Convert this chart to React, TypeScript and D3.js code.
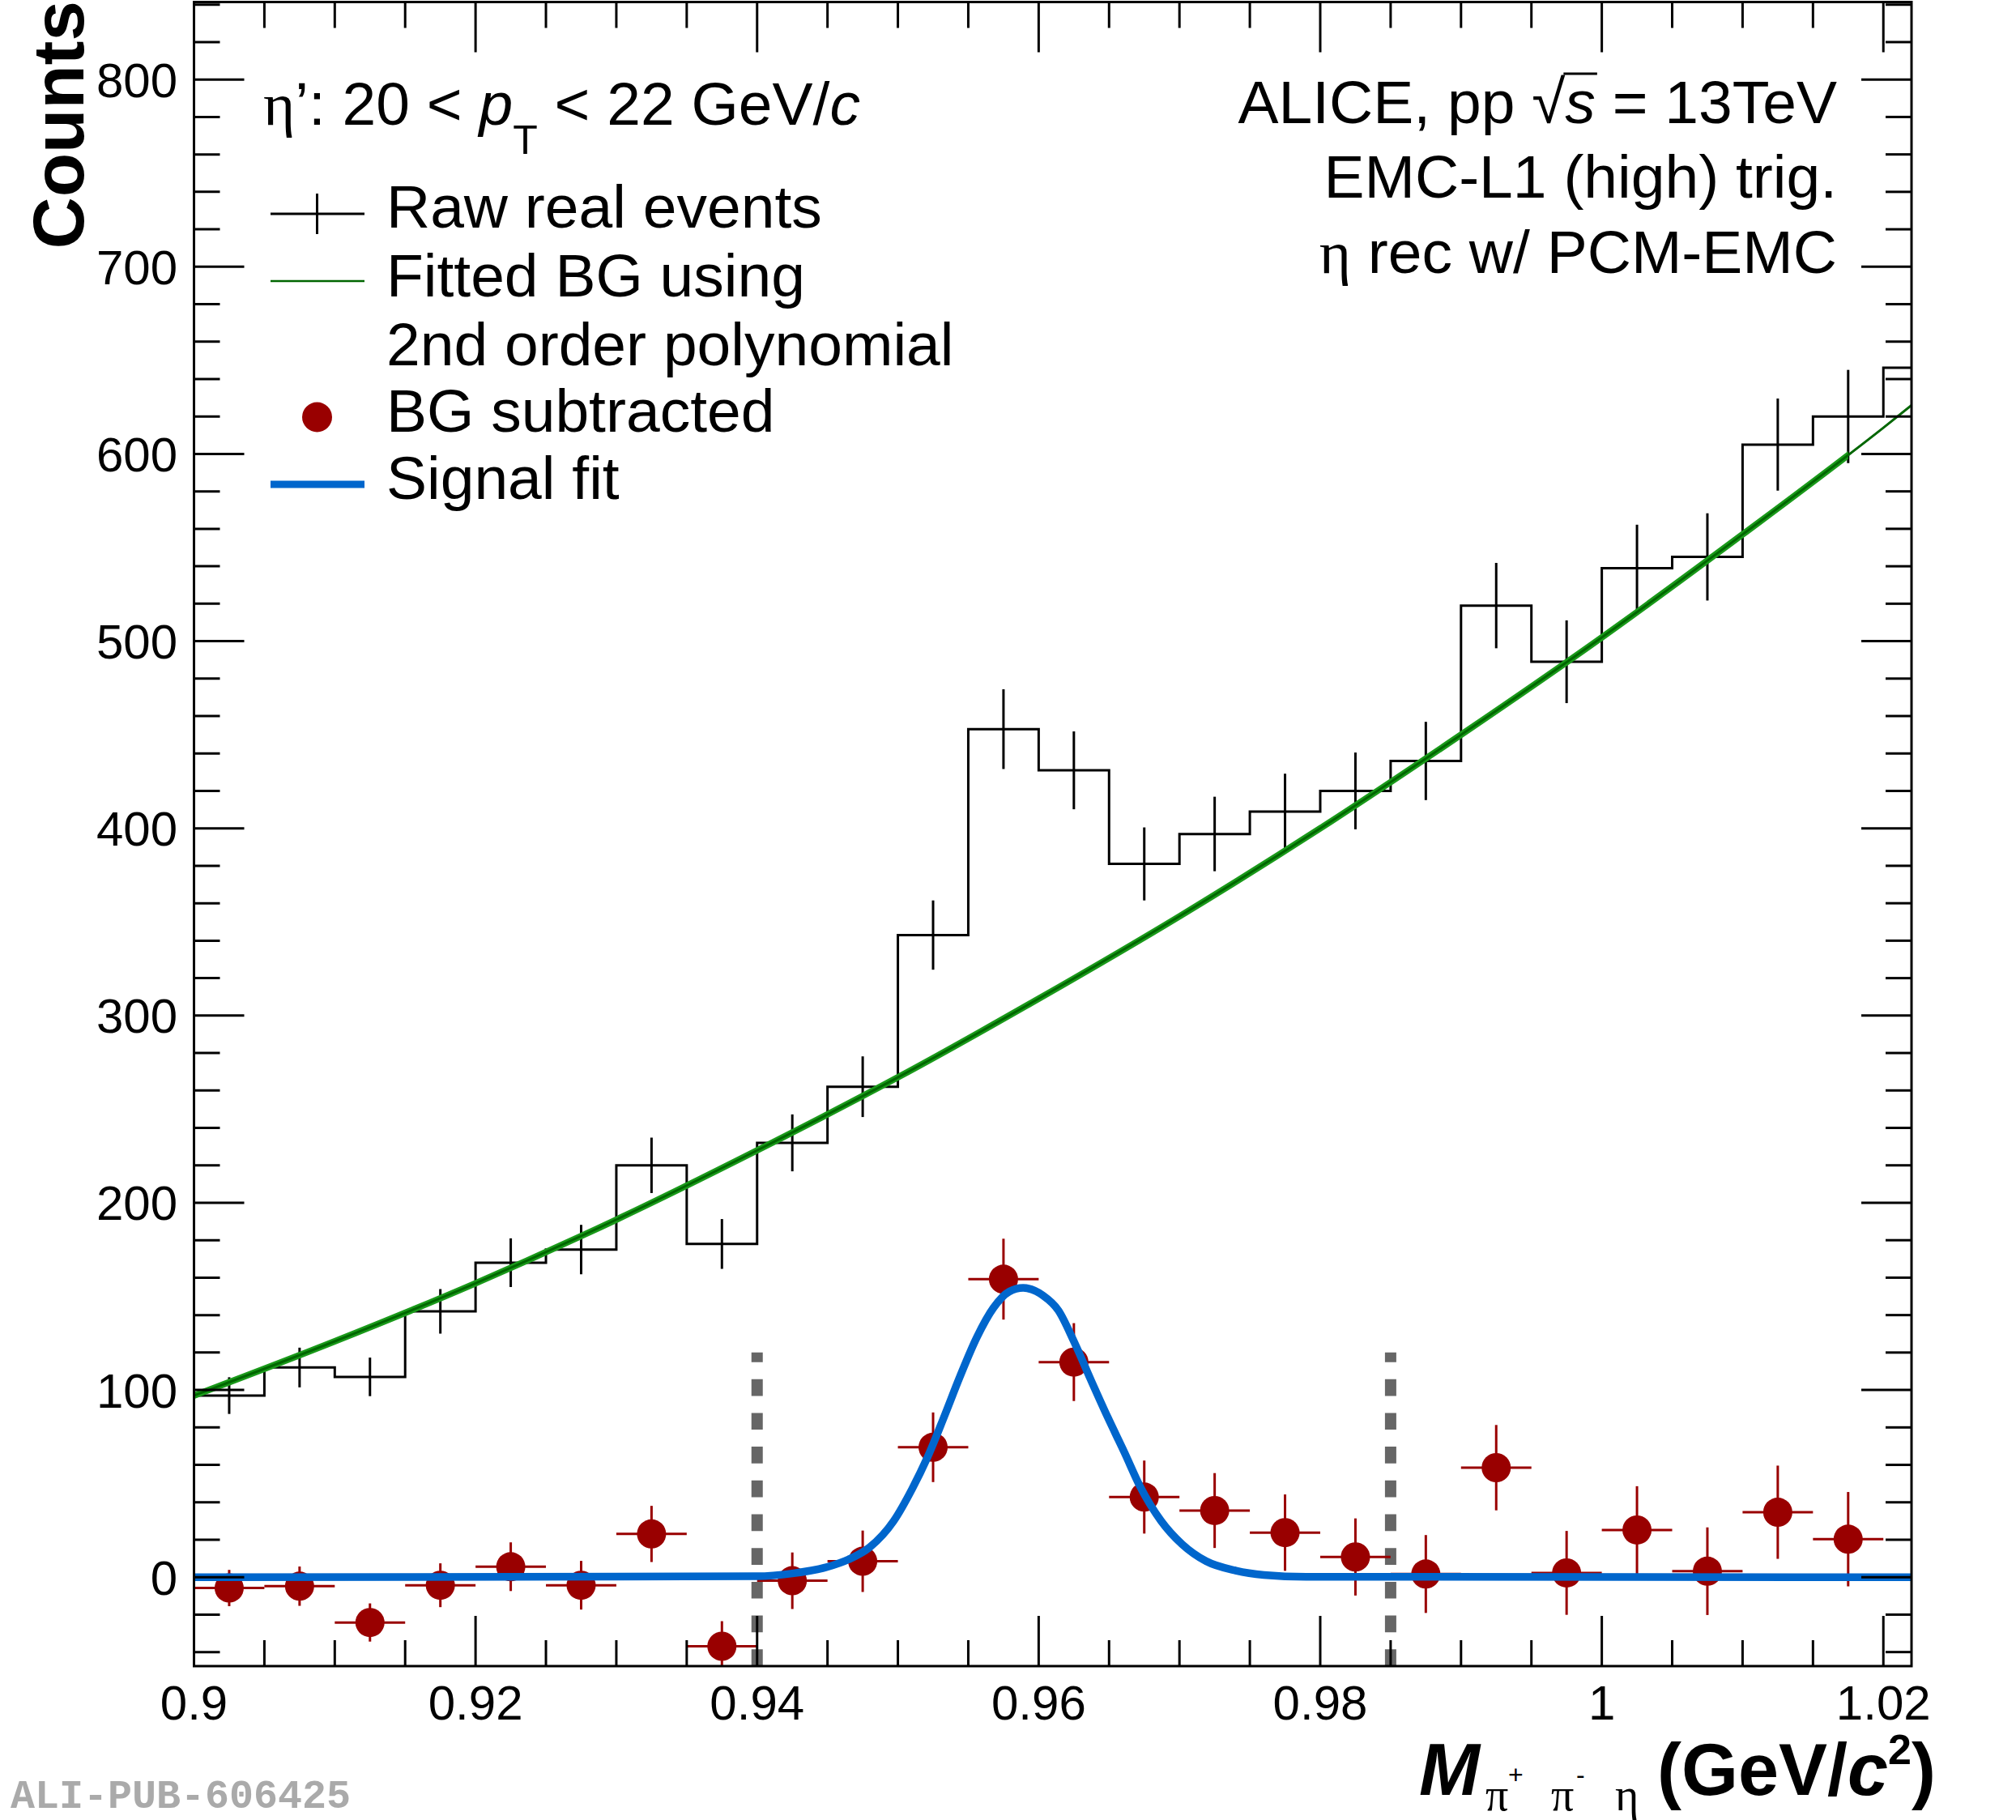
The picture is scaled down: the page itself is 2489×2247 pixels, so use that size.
import React, { useLayoutEffect, useRef, useState } from 'react';
import * as d3 from 'd3';

const W = 2489;
const H = 2247;
const SANS = '"Liberation Sans", Arial, Helvetica, sans-serif';
const SERIF = '"Liberation Serif", "Times New Roman", serif';
const MONO = '"Liberation Mono", "Courier New", monospace';

// ---------------- data ----------------
const binCenters = [0.9025, 0.9075, 0.9125, 0.9175, 0.9225, 0.9275, 0.9325, 0.9375, 0.9425, 0.9475,
  0.9525, 0.9575, 0.9625, 0.9675, 0.9725, 0.9775, 0.9825, 0.9875, 0.9925, 0.9975,
  1.0025, 1.0075, 1.0125, 1.0175, 1.0225];
const BIN_WIDTH = 0.005;
const rawCounts = [97, 112, 107, 142, 168, 175, 220, 178, 232, 262, 343, 453, 431, 381, 397, 409, 420, 436,
  519, 489, 539, 545, 605, 620, 646];
const rawErrors = [9.8, 10.6, 10.3, 11.9, 13.0, 13.2, 14.8, 13.3, 15.2, 16.2, 18.5, 21.3, 20.8, 19.5, 19.9,
  20.2, 20.5, 20.9, 22.8, 22.1, 23.2, 23.3, 24.6, 24.9, 25.4];
const bgSubValues = [-5.8, -4.8, -24.2, -4.3, 5.6, -4.3, 23.1, -36.9, -1.9, 8.5, 69.4, 159.2, 114.9, 42.8,
  35.6, 23.8, 10.8, 1.7, 58.5, 2.3, 25.2, 3.2, 34.7, 20.3];
const bgSubErrors = [9.7, 10.5, 10.2, 11.7, 13.0, 13.0, 15.0, 13.4, 15.1, 16.4, 18.6, 21.6, 20.8, 19.5,
  20.0, 20.4, 20.6, 20.8, 22.8, 22.4, 23.4, 23.4, 24.9, 25.2];
const bgFitX = [0.9, 0.91, 0.92, 0.93, 0.94, 0.95, 0.96, 0.97, 0.98, 0.99, 1.0, 1.01, 1.02, 1.022];
const bgFitY = [97, 126, 157, 191, 228, 267, 309, 353, 400, 450, 502, 557, 614, 626];
const fitRangeMax = 1.0175;
const signalX = [0.9, 0.94, 0.9425, 0.945, 0.9465, 0.948, 0.9497, 0.951, 0.9521, 0.9533, 0.9544, 0.9556,
  0.9568, 0.9579, 0.9589, 0.9603, 0.9614, 0.9625, 0.9637, 0.9649, 0.9661, 0.9672, 0.9687, 0.9702,
  0.9719, 0.974, 0.976, 0.979, 1.022];
const signalY = [0, 0.5, 2, 5.5, 9.5, 16, 30, 47, 64, 86, 107, 128, 144, 152.5, 154.5, 150.5, 142.5,
  126, 105.5, 85.5, 66.5, 48.5, 30, 17.5, 8.5, 3.5, 1.2, 0.2, 0];
const windowEdges = [0.94, 0.985];
const windowTop = 120;
const xTicks = [0.9, 0.92, 0.94, 0.96, 0.98, 1.0, 1.02];
const xTickLabels = ['0.9', '0.92', '0.94', '0.96', '0.98', '1', '1.02'];
const yTicks = [0, 100, 200, 300, 400, 500, 600, 700, 800];
const yTickLabels = ['0', '100', '200', '300', '400', '500', '600', '700', '800'];
const xMinorStep = 0.005;
const yMinorStep = 20;
const X_DOMAIN = [0.9, 1.022];
const Y_DOMAIN = [-47.5, 841.4];

const legendEntries = ['Raw real events', 'Fitted BG using', '2nd order polynomial', 'BG subtracted', 'Signal fit'];
const infoLines = ['EMC-L1 (high) trig.', 'η rec w/ PCM-EMC'];

// ---------------- colors ----------------
const RED = '#990000';
const BLUE = '#0066cc';
const GREEN_DARK = '#006600';
const GREEN_BAND = '#1a9a1a';
const GRAY = '#666666';

const L = 239.5, R = 2360, T = 2.5, B = 2057;

export default function App() {
  const x = d3.scaleLinear().domain(X_DOMAIN).range([L, R]);
  const y = d3.scaleLinear().domain(Y_DOMAIN).range([B, T]);

  const aliceRef = useRef<SVGTextElement>(null);
  const [bar, setBar] = useState<[number, number] | null>(null);
  useLayoutEffect(() => {
    const measure = () => {
      const t = aliceRef.current;
      if (!t) return;
      try {
        const a = t.getEndPositionOfChar(10);
        const b = t.getEndPositionOfChar(11);
        setBar([a.x, b.x]);
      } catch (e) { /* ignore */ }
    };
    measure();
    if ((document as any).fonts && (document as any).fonts.ready) {
      (document as any).fonts.ready.then(measure);
    }
  }, []);

  const xMinor = d3.range(X_DOMAIN[0], X_DOMAIN[1] + 1e-9, xMinorStep).filter(v => v <= X_DOMAIN[1] + 1e-9);
  const yMinor = d3.range(-40, Y_DOMAIN[1], yMinorStep);

  // raw histogram step path
  let histPath = '';
  binCenters.forEach((c, i) => {
    const x0 = x(Math.max(c - BIN_WIDTH / 2, X_DOMAIN[0]));
    const x1 = x(Math.min(c + BIN_WIDTH / 2, X_DOMAIN[1]));
    const yy = y(rawCounts[i]);
    histPath += i === 0 ? `M${x0},${yy}H${x1}` : `V${yy}H${x1}`;
  });

  const bgLine = d3.line<number>().x((d, i) => x(bgFitX[i])).y(d => y(d)).curve(d3.curveMonotoneX)(bgFitY) || '';
  const sigLine = d3.line<number>().x((d, i) => x(signalX[i])).y(d => y(d)).curve(d3.curveMonotoneX)(signalY) || '';

  const majLen = 62, minLen = 32;
  const tickW = 3;

  return (
    <svg width={W} height={H} style={{ position: 'absolute', left: 0, top: 0, background: '#fff' }}
      xmlns="http://www.w3.org/2000/svg">
      <defs>
        <clipPath id="plotClip"><rect x={L} y={T} width={R - L} height={B - T} /></clipPath>
        <clipPath id="bandClip"><rect x={L} y={T} width={x(fitRangeMax) - L} height={B - T} /></clipPath>
      </defs>
      <rect x={0} y={0} width={W} height={H} fill="#fff" />

      <g clipPath="url(#plotClip)">
        {/* raw histogram */}
        <path d={histPath} fill="none" stroke="#000" strokeWidth={3} />
        {binCenters.map((c, i) => c <= X_DOMAIN[1] ? (
          <line key={'re' + i} x1={x(c)} x2={x(c)} y1={y(rawCounts[i] - rawErrors[i])} y2={y(rawCounts[i] + rawErrors[i])}
            stroke="#000" strokeWidth={3} />
        ) : null)}

        {/* background fit */}
        <path d={bgLine} fill="none" stroke={GREEN_BAND} strokeWidth={8} clipPath="url(#bandClip)" />
        <path d={bgLine} fill="none" stroke={GREEN_DARK} strokeWidth={3} />

        {/* integration window */}
        {windowEdges.map((e, i) => (
          <line key={'w' + i} x1={x(e)} x2={x(e)} y1={y(Y_DOMAIN[0])} y2={y(windowTop)}
            stroke={GRAY} strokeWidth={14} strokeDasharray="20.7 21" />
        ))}

        {/* BG subtracted */}
        {bgSubValues.map((v, i) => {
          const c = binCenters[i];
          return (
            <g key={'bs' + i}>
              <line x1={x(c - BIN_WIDTH / 2)} x2={x(c + BIN_WIDTH / 2)} y1={y(v)} y2={y(v)} stroke={RED} strokeWidth={3} />
              <line x1={x(c)} x2={x(c)} y1={y(v - bgSubErrors[i])} y2={y(v + bgSubErrors[i])} stroke={RED} strokeWidth={3} />
              <circle cx={x(c)} cy={y(v)} r={18} fill={RED} />
            </g>
          );
        })}

        {/* signal fit */}
        <path d={sigLine} fill="none" stroke={BLUE} strokeWidth={9.5} />
      </g>

      {/* frame */}
      <rect x={L} y={T} width={R - L} height={B - T} fill="none" stroke="#000" strokeWidth={3} />

      {/* x ticks */}
      {xMinor.map((v, i) => {
        const isMaj = xTicks.some(t => Math.abs(t - v) < 1e-6);
        const len = isMaj ? majLen : minLen;
        return (
          <g key={'xt' + i}>
            <line x1={x(v)} x2={x(v)} y1={B} y2={B - len} stroke="#000" strokeWidth={tickW} />
            <line x1={x(v)} x2={x(v)} y1={T} y2={T + len} stroke="#000" strokeWidth={tickW} />
          </g>
        );
      })}
      {/* y ticks */}
      {yMinor.map((v, i) => {
        const isMaj = yTicks.includes(v);
        const len = isMaj ? majLen : minLen;
        return (
          <g key={'yt' + i}>
            <line x1={L} x2={L + len} y1={y(v)} y2={y(v)} stroke="#000" strokeWidth={tickW} />
            <line x1={R} x2={R - len} y1={y(v)} y2={y(v)} stroke="#000" strokeWidth={tickW} />
          </g>
        );
      })}

      {/* tick labels */}
      {xTicks.map((v, i) => (
        <text key={'xl' + i} x={x(v)} y={2123} textAnchor="middle" fontFamily={SANS} fontSize={60}>{xTickLabels[i]}</text>
      ))}
      {yTicks.map((v, i) => (
        <text key={'yl' + i} x={219} y={y(v) + 21.5} textAnchor="end" fontFamily={SANS} fontSize={60}>{yTickLabels[i]}</text>
      ))}

      {/* axis titles */}
      <text transform="translate(103,0) rotate(-90)" x={-1} y={0} textAnchor="end" fontFamily={SANS}
        fontWeight="bold" fontSize={89}>Counts</text>

      <text x={1752} y={2216} fontFamily={SANS} fontWeight="bold" fontStyle="italic" fontSize={90}>M</text>
      <text x={1834} y={2235} fontFamily={SERIF} fontSize={56}>π</text>
      <text x={1862} y={2202} fontFamily={SANS} fontSize={32}>+</text>
      <text x={1915} y={2235} fontFamily={SERIF} fontSize={56}>π</text>
      <text x={1946} y={2202} fontFamily={SANS} fontSize={32}>-</text>
      <text x={1994} y={2235} fontFamily={SERIF} fontSize={56}>η</text>
      <text x={2390} y={2216} textAnchor="end" fontFamily={SANS} fontWeight="bold" fontSize={90}>
        <tspan>(GeV/</tspan>
        <tspan fontStyle="italic">c</tspan>
        <tspan fontSize={52} dy={-38}>2</tspan>
        <tspan dy={38}>)</tspan>
      </text>

      {/* legend header */}
      <text x={325} y={154} fontFamily={SANS} fontSize={75}>
        <tspan fontFamily={SERIF}>η</tspan>
        <tspan>’: 20 &lt; </tspan>
        <tspan fontStyle="italic">p</tspan>
        <tspan fontSize={50} dy={36}>T</tspan>
        <tspan dy={-36}> &lt; 22 GeV/</tspan>
        <tspan fontStyle="italic">c</tspan>
      </text>

      {/* legend symbols */}
      <line x1={334} x2={450} y1={264} y2={264} stroke="#000" strokeWidth={3} />
      <line x1={391.5} x2={391.5} y1={239} y2={289} stroke="#000" strokeWidth={3} />
      <line x1={334} x2={450} y1={347} y2={347} stroke={GREEN_DARK} strokeWidth={2.5} />
      <circle cx={391.5} cy={515} r={18.5} fill={RED} />
      <line x1={334} x2={450} y1={598} y2={598} stroke={BLUE} strokeWidth={9} />
      {legendEntries.map((t, i) => (
        <text key={'le' + i} x={477} y={[281, 366, 451, 533, 616][i]} fontFamily={SANS} fontSize={75}>{t}</text>
      ))}

      {/* info text top-right */}
      <text ref={aliceRef} x={2268} y={152} textAnchor="end" fontFamily={SANS} fontSize={75}>
        <tspan>ALICE, pp </tspan>
        <tspan>√</tspan>
        <tspan fontStyle="italic">s</tspan>
        <tspan> = 13TeV</tspan>
      </text>
      {bar && (
        <line x1={bar[0] - 2} x2={bar[1] + 2} y1={91} y2={91} stroke="#000" strokeWidth={3} />
      )}
      {infoLines.map((t, i) => (
        <text key={'il' + i} x={2268} y={[243.5, 337][i]} textAnchor="end" fontFamily={SANS} fontSize={75}>
          {i === 1 ? (<><tspan fontFamily={SERIF}>η</tspan><tspan>{t.slice(1)}</tspan></>) : t}
        </text>
      ))}

      {/* watermark */}
      <text x={13} y={2232} fontFamily={MONO} fontWeight="bold" fontSize={50} fill="#aaaaaa">ALI-PUB-606425</text>
    </svg>
  );
}
